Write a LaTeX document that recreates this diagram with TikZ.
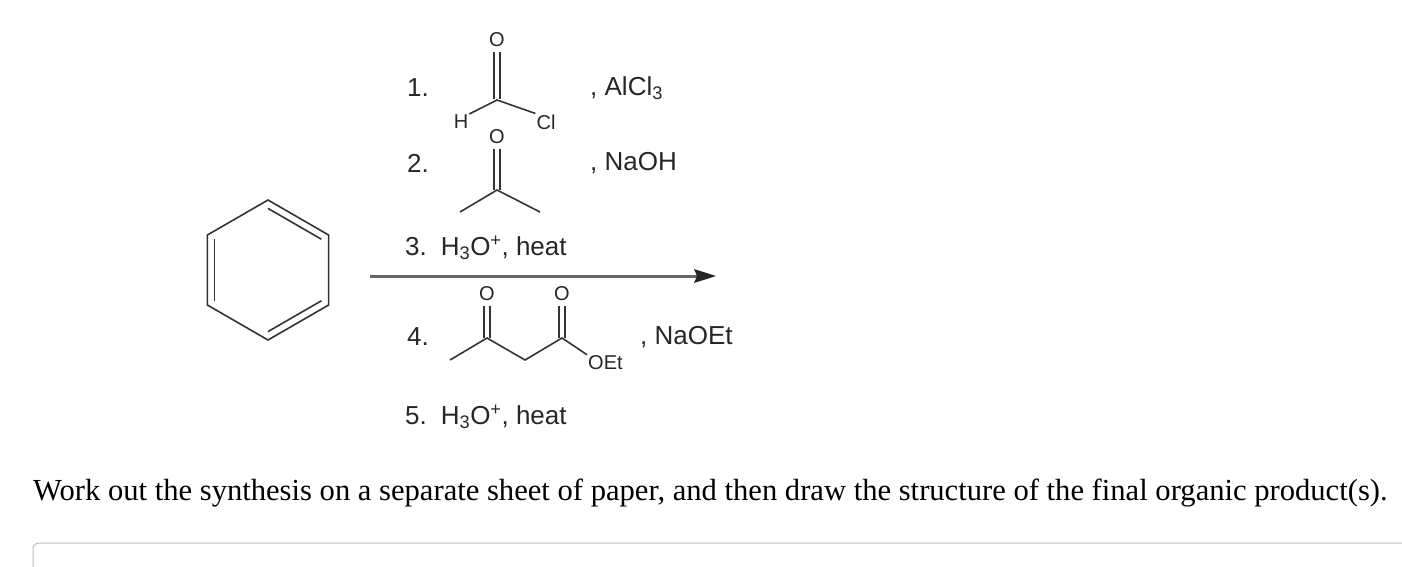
\documentclass[tikz,border=0pt]{standalone}
\usepackage{fontspec}
\usetikzlibrary{calc}
\setmainfont{Liberation Sans}
\newfontfamily\serif{Liberation Serif}
\begin{document}
\begin{tikzpicture}[x=1pt,y=-1pt,
  bond/.style={line width=1.6pt,draw=black!80},
  lab/.style={font=\fontsize{26}{28}\selectfont,inner sep=0pt,text=black!85},
  atm/.style={font=\fontsize{20}{22}\selectfont,inner sep=1pt,text=black!85}]
\useasboundingbox (0,0) rectangle (1402,566);
% benzene
\foreach \i in {0,...,5}{\coordinate (b\i) at ({268+70*cos(90+60*\i)},{270-70*sin(90+60*\i)});}
\draw[bond] (b0)--(b1)--(b2)--(b3)--(b4)--(b5)--cycle;
\coordinate (bc) at (268,270);
\draw[bond] ($(b1)!0.12!(bc)$) -- ($(b2)!0.12!(bc)$);
\draw[bond] ($(b3)!0.12!(bc)$) -- ($(b4)!0.12!(bc)$);
\draw[bond] ($(b5)!0.12!(bc)$) -- ($(b0)!0.12!(bc)$);
% arrow
\coordinate (a1) at (370,276); \coordinate (a2) at (716,276);
\draw[line width=3pt,draw=black!60] (a1)--(700,276);
\fill[black!85] (a2)--(694,269)--(697,276)--(694,283)--cycle;
% reagent 1
\node[lab] (n1) at (418,88) {1.};
\node[atm] (o1) at (497,40) {O};
\node[atm] (h1) at (461,122) {H};
\node[atm] (cl1) at (546,122) {Cl};
\coordinate (c1) at (497,100);
\draw[bond] (494,52)--(494,99) (500,52)--(500,99);
\draw[bond] (h1.north east)--(c1)--(cl1.north west);
\node[lab,anchor=west] (r1) at (590,88) {, AlCl\textsubscript{3}};
% reagent 2
\node[lab] (n2) at (418,163) {2.};
\node[atm] (o2) at (497,137) {O};
\coordinate (c2) at (497,190);
\draw[bond] (494,149)--(494,190) (500,149)--(500,190);
\draw[bond] (460,212)--(c2)--(540,212);
\node[lab,anchor=west] (r2) at (590,163) {, NaOH};
% 3
\node[lab,anchor=west] (s3) at (405,248) {3.\, H\textsubscript{3}O\textsuperscript{+}, heat};
% reagent 4
\node[lab] (n4) at (418,337) {4.};
\node[atm] (o4a) at (487,294) {O};
\node[atm] (o4b) at (562,294) {O};
\coordinate (m4) at (450,360); \coordinate (k4) at (487,338);
\coordinate (h4) at (525,360); \coordinate (e4) at (562,338);
\node[atm,anchor=west] (oet) at (587,363) {OEt};
\draw[bond] (m4)--(k4)--(h4)--(e4)--(oet.north west);
\draw[bond] (484,306)--(484,338) (490,306)--(490,338);
\draw[bond] (559,306)--(559,338) (565,306)--(565,338);
\node[lab,anchor=west] (r4) at (640,337) {, NaOEt};
% 5
\node[lab,anchor=west] (s5) at (405,417) {5.\, H\textsubscript{3}O\textsuperscript{+}, heat};
% question
\node[anchor=west,inner sep=0pt,font=\serif\fontsize{30.6}{32}\selectfont] (q) at (33,493) {Work out the synthesis on a separate sheet of paper, and then draw the structure of the final organic product(s).};
\draw[black!25,line width=1pt,rounded corners=6pt] (33,580)--(33,543)--(1420,543);
\end{tikzpicture}
\end{document}
